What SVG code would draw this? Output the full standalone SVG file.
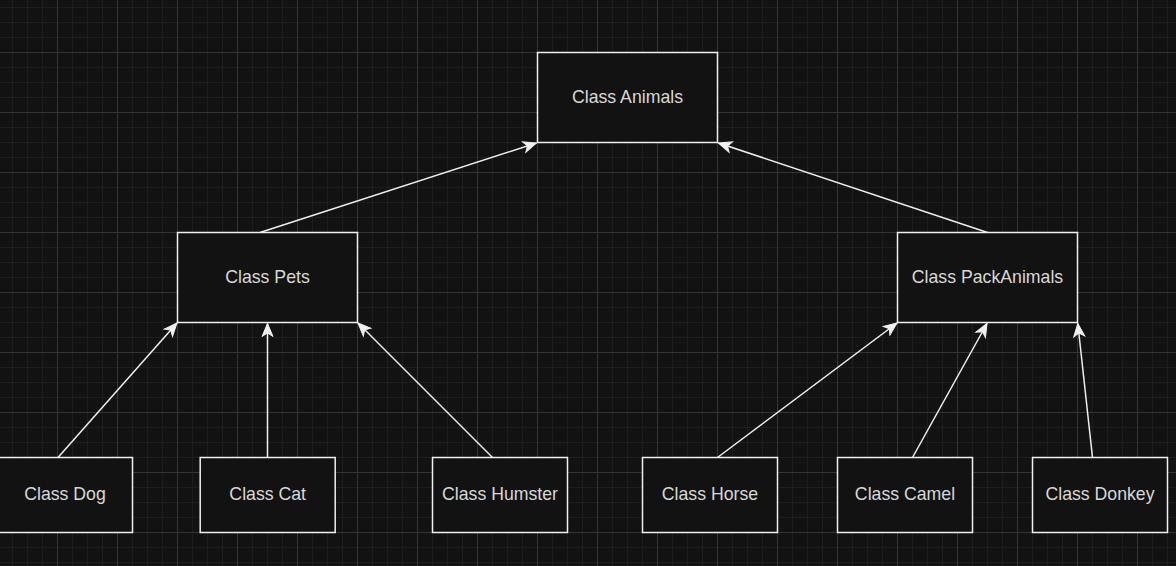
<svg xmlns="http://www.w3.org/2000/svg" width="1176" height="566" viewBox="0 0 1176 566">
  <style>
    .node rect { fill: #121212; stroke: #f0f0f0; stroke-width: 1.5; }
    .node text { font-family: "Liberation Sans", Arial, sans-serif; font-size: 17.7px; fill: #d8d8d8; text-anchor: middle; }
    .edge { stroke: #f0f0f0; stroke-width: 1.5; fill: none; marker-end: url(#arrow); }
  </style>
  <defs>
    <pattern id="grid" patternUnits="userSpaceOnUse" x="57" y="52" width="60" height="60">
      <rect width="60" height="60" fill="#121212"/>
      <path d="M15.5 0V60M30.5 0V60M45.5 0V60M0 15.5H60M0 30.5H60M0 45.5H60" stroke="#1d1d1d" stroke-width="1"/>
      <path d="M0.5 0V60M0 0.5H60" stroke="#343434" stroke-width="1"/>
    </pattern>
    <marker id="arrow" markerUnits="userSpaceOnUse" viewBox="-14 -7 16 14" refX="0" refY="0" markerWidth="16" markerHeight="14" orient="auto">
      <path d="M0,0 L-13,-5.5 L-9.5,0 L-13,5.5 Z" fill="#f0f0f0" stroke="#f0f0f0" stroke-width="1"/>
    </marker>
  </defs>
  <rect width="1176" height="566" fill="url(#grid)"/>

  <g id="connectors">
    <line class="edge" x1="260" y1="232.5" x2="536.5" y2="143"/>
    <line class="edge" x1="987.5" y1="232.5" x2="718.5" y2="143"/>
    <line class="edge" x1="58" y1="457.5" x2="177" y2="323"/>
    <line class="edge" x1="267.5" y1="457.5" x2="267.5" y2="323.5"/>
    <line class="edge" x1="492.5" y1="457.5" x2="358" y2="323"/>
    <line class="edge" x1="717.5" y1="457.5" x2="897" y2="323"/>
    <line class="edge" x1="912.5" y1="457.5" x2="987" y2="323.5"/>
    <line class="edge" x1="1092.5" y1="457.5" x2="1077.8" y2="323.5"/>
  </g>

  <g id="animals" class="node">
    <rect x="537.5" y="52.5" width="180" height="90"/>
    <text x="627.5" y="102.7">Class Animals</text>
  </g>
  <g id="pets" class="node">
    <rect x="177.5" y="232.5" width="180" height="90"/>
    <text x="267.5" y="282.7">Class Pets</text>
  </g>
  <g id="packanimals" class="node">
    <rect x="897.5" y="232.5" width="180" height="90"/>
    <text x="987.5" y="282.7">Class PackAnimals</text>
  </g>
  <g id="dog" class="node">
    <rect x="-2.5" y="457.5" width="135" height="75"/>
    <text x="65" y="500.2">Class Dog</text>
  </g>
  <g id="cat" class="node">
    <rect x="200.2" y="457.5" width="135" height="75"/>
    <text x="267.7" y="500.2">Class Cat</text>
  </g>
  <g id="humster" class="node">
    <rect x="432.5" y="457.5" width="135" height="75"/>
    <text x="500" y="500.2">Class Humster</text>
  </g>
  <g id="horse" class="node">
    <rect x="642.5" y="457.5" width="135" height="75"/>
    <text x="710" y="500.2">Class Horse</text>
  </g>
  <g id="camel" class="node">
    <rect x="837.5" y="457.5" width="135" height="75"/>
    <text x="905" y="500.2">Class Camel</text>
  </g>
  <g id="donkey" class="node">
    <rect x="1032.5" y="457.5" width="135" height="75"/>
    <text x="1100" y="500.2">Class Donkey</text>
  </g>
</svg>
